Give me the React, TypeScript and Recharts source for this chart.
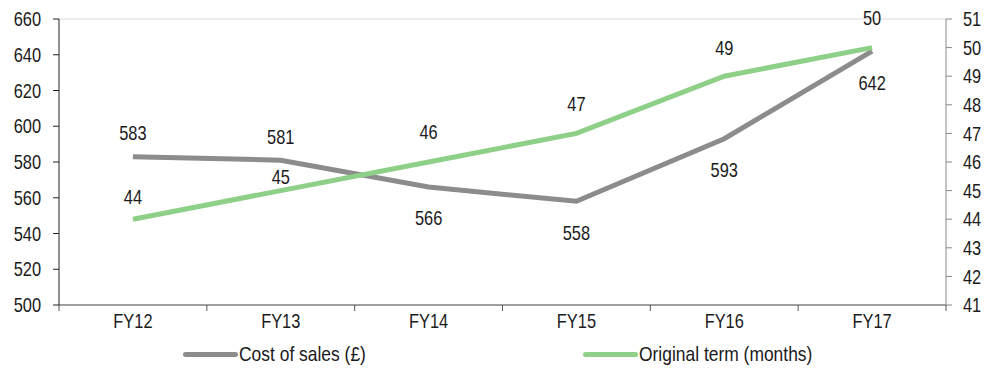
import { CartesianGrid, Legend, Line, LineChart, XAxis, YAxis } from "recharts";

const YEARS = ["FY12", "FY13", "FY14", "FY15", "FY16", "FY17"];
const COST_OF_SALES = [583, 581, 566, 558, 593, 642];
const ORIGINAL_TERM = [44, 45, 46, 47, 49, 50];
const LEFT_TICKS = [500, 520, 540, 560, 580, 600, 620, 640, 660];
const RIGHT_TICKS = [41, 42, 43, 44, 45, 46, 47, 48, 49, 50, 51];

// label offsets (px from point to label centre), matched to the source
const COST_LABEL_DY = [-24, -23, 31, 32, 31, 32];
const TERM_LABEL_DY = [-22, -14, -30, -30, -28, -30];

const GREY = "#8c8c8c";
const GREEN = "#8fd088";
const FONT = "'Liberation Sans', Arial, sans-serif";
const SQUEEZE = 0.82; // no Arial Narrow installed, so squash Liberation Sans

const data = YEARS.map((year, i) => ({
  year,
  cost: COST_OF_SALES[i],
  term: ORIGINAL_TERM[i],
}));

function NarrowText({ x, y, anchor, baseline, children }: any) {
  return (
    <text
      transform={`translate(${x},${y}) scale(${SQUEEZE},1)`}
      textAnchor={anchor}
      dominantBaseline={baseline}
      fontFamily={FONT}
      fontSize={20}
      fill="#1a1a1a"
    >
      {children}
    </text>
  );
}

function makeLabel(offsets: number[]) {
  return (props: any) => {
    const { x, y, value, index } = props;
    return (
      <NarrowText x={x} y={y + offsets[index]} anchor="middle" baseline="central">
        {value}
      </NarrowText>
    );
  };
}

function YTick(props: any) {
  const { x, y, payload, textAnchor } = props;
  return (
    <NarrowText x={x} y={y} anchor={textAnchor} baseline="central">
      {payload.value}
    </NarrowText>
  );
}

function XTick(props: any) {
  const { x, y, payload, index, width } = props;
  const band = width / YEARS.length;
  const left = x - band / 2;
  return (
    <g>
      <line x1={left} y1={y - 8} x2={left} y2={y - 2} stroke="#555" />
      {index === YEARS.length - 1 && (
        <line x1={left + band} y1={y - 8} x2={left + band} y2={y - 2} stroke="#555" />
      )}
      <NarrowText x={x} y={y + 15} anchor="middle" baseline="auto">
        {payload.value}
      </NarrowText>
    </g>
  );
}

function LegendBox() {
  const items = [
    { label: "Cost of sales (£)", color: GREY, left: 183 },
    { label: "Original term (months)", color: GREEN, left: 583 },
  ];
  return (
    <div style={{ position: "relative", height: 28 }}>
      {items.map((it) => (
        <div
          key={it.label}
          style={{ position: "absolute", left: it.left, top: 0, display: "flex", alignItems: "center", height: 28 }}
        >
          <span style={{ width: 55, height: 5, borderRadius: 3, background: it.color, display: "inline-block" }} />
          <span
            style={{
              fontFamily: FONT,
              fontSize: 21,
              color: "#1a1a1a",
              marginLeft: 1,
              display: "inline-block",
              transform: "scaleX(0.83)",
              transformOrigin: "left center",
              whiteSpace: "nowrap",
            }}
          >
            {it.label}
          </span>
        </div>
      ))}
    </div>
  );
}

export default function App() {
  return (
    <div style={{ position: "absolute", left: 0, top: 0, width: 989, height: 368, background: "#fff" }}>
      <LineChart width={989} height={368} data={data} margin={{ top: 19, right: 0, bottom: 0, left: 0 }}>
        <CartesianGrid vertical={false} stroke="#d9d9d9" />
        <XAxis
          dataKey="year"
          scale="band"
          height={35}
          tickLine={false}
          axisLine={{ stroke: "#555" }}
          tick={<XTick />}
          interval={0}
        />
        <YAxis
          yAxisId="left"
          width={59}
          domain={[500, 660]}
          ticks={LEFT_TICKS}
          tickSize={6}
          tickMargin={12}
          axisLine={{ stroke: "#222" }}
          tickLine={{ stroke: "#222" }}
          tick={<YTick />}
        />
        <YAxis
          yAxisId="right"
          orientation="right"
          width={43}
          domain={[41, 51]}
          ticks={RIGHT_TICKS}
          tickSize={6}
          tickMargin={11}
          axisLine={{ stroke: "#888" }}
          tickLine={{ stroke: "#888" }}
          tick={<YTick />}
        />
        <Legend verticalAlign="bottom" height={28} content={() => <LegendBox />} />
        <Line
          yAxisId="left"
          dataKey="cost"
          name="Cost of sales (£)"
          stroke={GREY}
          strokeWidth={5}
          dot={false}
          isAnimationActive={false}
          label={makeLabel(COST_LABEL_DY)}
        />
        <Line
          yAxisId="right"
          dataKey="term"
          name="Original term (months)"
          stroke={GREEN}
          strokeWidth={5}
          dot={false}
          isAnimationActive={false}
          label={makeLabel(TERM_LABEL_DY)}
        />
      </LineChart>
    </div>
  );
}
